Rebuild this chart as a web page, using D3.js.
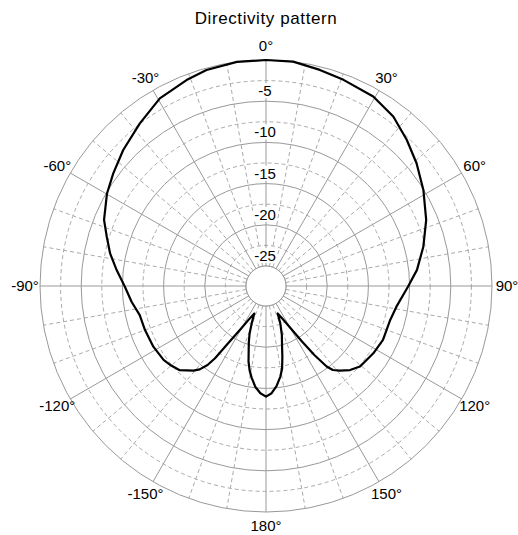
<!DOCTYPE html>
<html>
<head>
<meta charset="utf-8">
<script src="https://cdn.jsdelivr.net/npm/d3@7"></script>
<style>
  body { margin: 0; background: #fff; }
  text { font-family: Arial, "Liberation Sans", sans-serif; fill: #000; }
</style>
</head>
<body>
<div id="polar"></div>
<script>
// pattern: angle (deg, clockwise from top) and level (dB)
var patternAngles = [
  -180, -177, -174, -171, -169, -167, -165, -163, -161, -159, -157,
  -152.7, -149.7, -146.5, -144.8, -143.5, -141.5, -139.4, -134.3, -130, -125.8,
  -118.3, -110, -103, -96.7, -90.3, -83.9, -78.2, -72.8, -67.8, -59.8,
  -53.6, -46.4, -37.8, -29.5, -21.1, -15.4, -7.4, 0,
  6.9, 14, 20.6, 29.5, 36.9, 43.9, 50.8, 58.6, 67.6, 76, 83.9, 90.3,
  99, 105.3, 114.7, 122.1, 130.6, 135, 138.9, 141.5, 143, 145, 147, 149.7,
  153, 157, 159, 162, 165, 167, 169, 171, 174, 177
];
var patternGain = [
  -14.0, -14.4, -15.1, -16.2, -17.0, -18.0, -19.3, -20.3, -21.3, -22.6, -23.8,
  -22.8, -21.5, -19.1, -16.7, -15.5, -14.5, -13.9, -12.8, -12.4, -12.1,
  -11.9, -11.8, -11.7, -11.0, -10.3, -9.2, -8.1, -7.2, -6.2, -5.1,
  -4.4, -3.5, -2.45, -1.26, -0.64, -0.24, 0, 0,
  0, -0.4, -0.7, -1.0, -1.7, -2.8, -3.85, -5.05, -6.4, -7.75, -9.0, -10.2,
  -11.4, -11.8, -11.8, -12.05, -12.4, -13.0, -13.8, -14.4, -15.2, -17.2, -19.4, -21.5,
  -22.9, -23.8, -22.6, -21.2, -19.9, -18.6, -17.2, -16.3, -15.2, -14.4
];

// grid / tick values
var ringMajor = [0, -5, -10, -15, -20, -25];
var ringMinor = [-2.5, -7.5, -12.5, -17.5, -22.5];
var ringLabels = ["-5", "-10", "-15", "-20", "-25"];
var spokeMajor = [0, 30, 60, 90, 120, 150, 180, 210, 240, 270, 300, 330];
var spokeMinor = d3.range(0, 360, 10).filter(d => d % 30 !== 0);
var angleTicks = [0, 30, 60, 90, 120, 150, 180, -150, -120, -90, -60, -30];

var svgWidth = 518;
var svgHeight = 535;
var cx = 266, cy = 286;
var outerR = 226, innerR = 20;

var svg = d3.select("#polar")
  .append("svg")
  .attr("width", svgWidth)
  .attr("height", svgHeight);

var r = d3.scaleLinear()
  .domain([-25, 0])
  .range([innerR, outerR]);

var rad = d => d * Math.PI / 180;

svg.append("text")
  .attr("x", cx)
  .attr("y", 24)
  .attr("text-anchor", "middle")
  .style("font-size", "17px")
  .style("letter-spacing", "0.6px")
  .text("Directivity pattern");

var g = svg.append("g")
  .attr("transform", `translate(${cx}, ${cy})`);

// dashed rings and spokes
g.selectAll(".ring-minor")
  .data(ringMinor)
  .enter()
  .append("circle")
  .attr("r", d => r(d))
  .attr("fill", "none")
  .attr("stroke", "#aaa")
  .attr("stroke-dasharray", "4,3");

g.selectAll(".spoke-minor")
  .data(spokeMinor)
  .enter()
  .append("line")
  .attr("x1", d => innerR * Math.sin(rad(d)))
  .attr("y1", d => -innerR * Math.cos(rad(d)))
  .attr("x2", d => outerR * Math.sin(rad(d)))
  .attr("y2", d => -outerR * Math.cos(rad(d)))
  .attr("stroke", "#aaa")
  .attr("stroke-dasharray", "4,3");

// solid rings and spokes
g.selectAll(".ring-major")
  .data(ringMajor)
  .enter()
  .append("circle")
  .attr("r", d => r(d))
  .attr("fill", "none")
  .attr("stroke", "#999");

g.selectAll(".spoke-major")
  .data(spokeMajor)
  .enter()
  .append("line")
  .attr("x1", d => innerR * Math.sin(rad(d)))
  .attr("y1", d => -innerR * Math.cos(rad(d)))
  .attr("x2", d => outerR * Math.sin(rad(d)))
  .attr("y2", d => -outerR * Math.cos(rad(d)))
  .attr("stroke", "#999");

g.append("circle")
  .attr("r", innerR)
  .attr("fill", "#fff")
  .attr("stroke", "#999");

// the pattern itself
var line = d3.lineRadial()
  .angle(d => rad(d[0]))
  .radius(d => r(Math.max(-25, d[1])))
  .curve(d3.curveLinearClosed);

g.append("path")
  .datum(patternAngles.map((a, i) => [a, patternGain[i]]))
  .attr("d", line)
  .attr("fill", "none")
  .attr("stroke", "#000")
  .attr("stroke-width", 2.2)
  .attr("stroke-linejoin", "round");

// level labels on the vertical axis, with white boxes
var lab = g.selectAll(".rlab")
  .data(ringLabels)
  .enter()
  .append("g");

lab.append("text")
  .attr("x", -1)
  .attr("y", d => -r(+d) - 5)
  .attr("text-anchor", "middle")
  .style("font-size", "15px")
  .text(d => d);

lab.each(function() {
  var t = d3.select(this).select("text");
  var b = t.node().getBBox();
  d3.select(this).insert("rect", "text")
    .attr("x", b.x - 1)
    .attr("y", b.y + 1)
    .attr("width", b.width + 2)
    .attr("height", b.height - 2)
    .attr("fill", "#fff");
});

// angle labels round the outside
g.selectAll(".alab")
  .data(angleTicks)
  .enter()
  .append("text")
  .attr("x", d => 241 * Math.sin(rad(d)))
  .attr("y", d => -240 * Math.cos(rad(d)))
  .attr("dy", "0.35em")
  .attr("text-anchor", "middle")
  .style("font-size", "15px")
  .text(d => d + "°");
</script>
</body>
</html>
